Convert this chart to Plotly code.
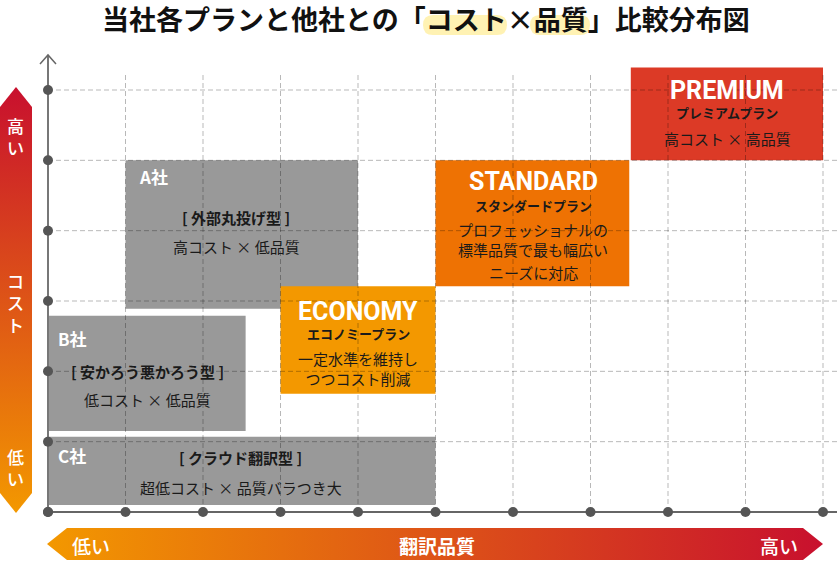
import plotly.graph_objects as go

W, H = 837, 562
# pixel mapping of the grid (origin and unit sizes)
OX, OY = 48, 512
SX = 77.5
SY = 422 / 6

# ---- data ----
x_ticks = list(range(0, 11))      # 翻訳品質 grid steps
y_ticks = list(range(0, 7))       # コスト grid steps

box_names = ["A社", "B社", "C社", "ECONOMY", "STANDARD", "PREMIUM"]
quality_lo = [1.0, 0.0, 0.0, 3.0, 5.0, 7.52]
quality_hi = [4.0, 2.55, 5.0, 5.0, 7.5, 10.0]
cost_lo = [2.89, 1.15, 0.10, 1.68, 3.21, 5.0]
cost_hi = [5.0, 2.79, 1.07, 3.21, 5.0, 6.32]
box_colors = ["#999999", "#999999", "#999999", "#f39800", "#ee7203", "#dc3a26"]

CJK = "Noto Sans CJK JP"
COND = "Roboto"


def dx(p):
    return (p - OX) / SX


def dy(p):
    return (OY - p) / SY


fig = go.Figure()

# ---- boxes ----
for i in range(len(box_names)):
    fig.add_shape(type="rect", xref="x", yref="y",
                  x0=quality_lo[i], x1=quality_hi[i], y0=cost_lo[i], y1=cost_hi[i],
                  fillcolor=box_colors[i], line=dict(width=0), layer="below")

# ---- title highlights ----
def pill(x0, x1, y0, y1, r):
    pts = (f"M {dx(x0+r)},{dy(y0)} L {dx(x1-r)},{dy(y0)} "
           f"Q {dx(x1)},{dy(y0)} {dx(x1)},{dy((y0+y1)/2)} "
           f"Q {dx(x1)},{dy(y1)} {dx(x1-r)},{dy(y1)} "
           f"L {dx(x0+r)},{dy(y1)} "
           f"Q {dx(x0)},{dy(y1)} {dx(x0)},{dy((y0+y1)/2)} "
           f"Q {dx(x0)},{dy(y0)} {dx(x0+r)},{dy(y0)} Z")
    return pts


for (a, b) in [(423, 507), (530, 590)]:
    fig.add_shape(type="path", xref="x", yref="y", path=pill(a, b, 15, 35, 10),
                  fillcolor="#fff2b3", line=dict(width=0), layer="below")

# ---- dashed grid ----
gx, gy = [], []
for t in x_ticks[1:]:
    gx += [t, t, None]
    gy += [0, dy(75), None]
for t in y_ticks[1:]:
    gx += [0, dx(W), None]
    gy += [t, t, None]
fig.add_trace(go.Scatter(x=gx, y=gy, mode="lines", hoverinfo="skip",
                         line=dict(color="rgba(0,0,0,0.28)", width=1, dash="5px,3px")))

# ---- gradient arrows ----
left_arrow = [(0, 107), (16, 87), (32, 107), (32, 493), (16, 513), (0, 493), (0, 107)]
fig.add_trace(go.Scatter(x=[dx(p[0]) for p in left_arrow], y=[dy(p[1]) for p in left_arrow],
                         mode="lines", line=dict(width=0), fill="toself", hoverinfo="skip",
                         fillgradient=dict(type="vertical",
                                           colorscale=[[0, "#f39800"], [1, "#c8102e"]])))
bottom_arrow = [(47, 544), (67, 528), (803, 528), (823, 544), (803, 560), (67, 560), (47, 544)]
fig.add_trace(go.Scatter(x=[dx(p[0]) for p in bottom_arrow], y=[dy(p[1]) for p in bottom_arrow],
                         mode="lines", line=dict(width=0), fill="toself", hoverinfo="skip",
                         fillgradient=dict(type="horizontal",
                                           colorscale=[[0, "#f39800"], [1, "#c8102e"]])))

# ---- axes ----
fig.add_trace(go.Scatter(x=[0, dx(W)], y=[0, 0], mode="lines", hoverinfo="skip",
                         line=dict(color="#666666", width=2)))
fig.add_trace(go.Scatter(x=[0, 0], y=[0, dy(55)], mode="lines", hoverinfo="skip",
                         line=dict(color="#777777", width=2)))
fig.add_trace(go.Scatter(x=[dx(40), 0, dx(56)], y=[dy(64), dy(55), dy(64)], mode="lines",
                         hoverinfo="skip", line=dict(color="#666666", width=1.5)))
fig.add_trace(go.Scatter(x=x_ticks, y=[0] * len(x_ticks), mode="markers", hoverinfo="skip",
                         marker=dict(color="#555555", size=10)))
fig.add_trace(go.Scatter(x=[0] * len(y_ticks), y=y_ticks, mode="markers", hoverinfo="skip",
                         marker=dict(color="#555555", size=10)))

# ---- texts ----
def txt(s, x, y, size, color="#1a1a1a", weight=400, family=CJK, anchor="center", pad=1):
    fig.add_annotation(text=s, x=x / W, y=1 - y / H, xref="paper", yref="paper",
                       xanchor=anchor, yanchor="middle", showarrow=False, borderpad=pad,
                       font=dict(family=family, size=size, color=color, weight=weight))


txt("当社各プランと他社との「コスト×品質」比較分布図", 425.5, 18.5, 27, "#111111", 700, pad=0)

# A社
txt("A社", 137, 176, 17, "white", 700, anchor="left")
txt("[ 外部丸投げ型 ]", 236, 218, 15, weight=700)
txt("高コスト × 低品質", 236, 246, 15)
# B社
txt("B社", 56, 338, 17, "white", 700, anchor="left")
txt("[ 安かろう悪かろう型 ]", 147, 371, 15, weight=700)
txt("低コスト × 低品質", 147, 399, 15)
# C社
txt("C社", 56, 455, 17, "white", 700, anchor="left")
txt("[ クラウド翻訳型 ]", 241, 457, 15, weight=700)
txt("超低コスト × 品質バラつき大", 241, 487, 15)
# ECONOMY
txt("ECONOMY", 358, 311, 25, "white", 700, COND)
txt("エコノミープラン", 358, 333, 13, weight=700)
txt("一定水準を維持し<br>つつコスト削減", 358, 368, 15)
# STANDARD
txt("STANDARD", 533, 181, 25, "white", 700, COND)
txt("スタンダードプラン", 533, 205, 13, weight=700)
txt("プロフェッショナルの<br>標準品質で最も幅広い", 533, 239, 15)
txt("ニーズに対応", 533, 272, 15)
# PREMIUM
txt("PREMIUM", 727, 90, 25, "white", 700, COND)
txt("プレミアムプラン", 727, 112, 13, weight=700)
txt("高コスト × 高品質", 727, 138, 15)

# arrow labels (vertical writing on the cost arrow)
txt("高<br>い", 16, 136, 17, "white", 500, pad=0)
txt("コ<br>ス<br>ト", 16, 302, 17, "white", 500, pad=0)
txt("低<br>い", 16, 467, 17, "white", 500, pad=0)
txt("低い", 91, 545, 19, "white", 500)
txt("翻訳品質", 437, 545, 19, "white", 700)
txt("高い", 779, 545, 19, "white", 500)

fig.update_layout(
    width=W, height=H, margin=dict(l=0, r=0, t=0, b=0),
    paper_bgcolor="white", plot_bgcolor="white", showlegend=False,
    xaxis=dict(range=[dx(0), dx(W)], visible=False, fixedrange=True),
    yaxis=dict(range=[dy(H), dy(0)], visible=False, fixedrange=True),
)

fig.write_html("out.html", config={"displayModeBar": False},
               post_script="document.body.style.margin='0';document.body.style.overflow='hidden';")
